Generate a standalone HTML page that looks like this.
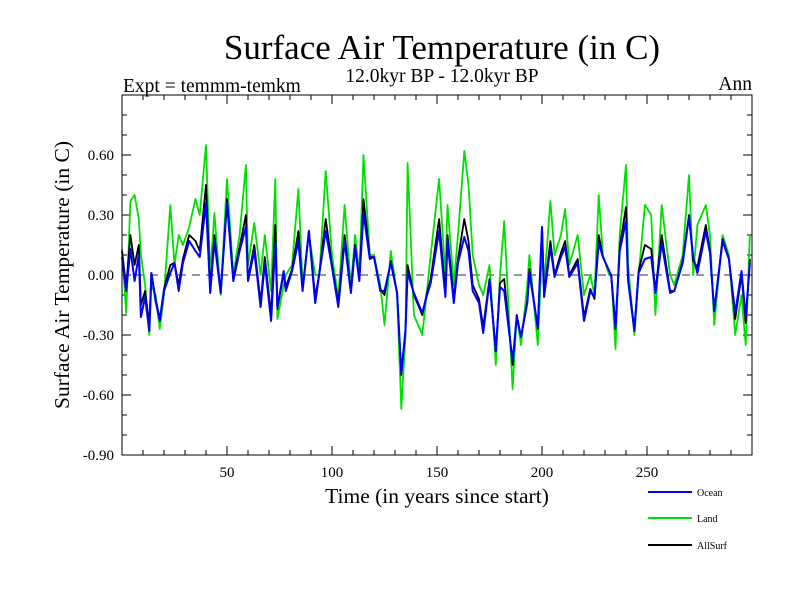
<!DOCTYPE html>
<html><head><meta charset="utf-8"><style>
body{margin:0;background:#fff}
svg text{font-family:"Liberation Serif",serif}
</style></head><body>
<svg id="chart" width="800" height="600" xmlns="http://www.w3.org/2000/svg">
<text x="442" y="59" font-size="35" text-anchor="middle">Surface Air Temperature (in C)</text>
<text x="123" y="92" font-size="19.5">Expt = temmm-temkm</text>
<text x="442" y="82" font-size="19.5" text-anchor="middle">12.0kyr BP - 12.0kyr BP</text>
<text x="752" y="90" font-size="19.5" text-anchor="end">Ann</text>
<text transform="translate(69,275) rotate(-90)" font-size="21.5" text-anchor="middle">Surface Air Temperature (in C)</text>
<text x="437" y="503" font-size="21.5" text-anchor="middle">Time (in years since start)</text>
<g id="axes"></g>
<g id="series"></g>
<rect x="122" y="95" width="630" height="360" fill="none" stroke="#000" stroke-width="1"/>
<g id="legend" font-family="Liberation Sans, sans-serif"></g>
</svg>
<script>
const years=[0,2,4,6,8,9,11,13,14,16,18,20,23,25,27,29,32,35,37,40,42,44,47,50,53,56,59,60,63,66,68,71,73,74,77,78,81,84,86,89,92,94,97,100,103,106,109,111,113,115,118,120,123,125,128,131,133,135,136,139,143,145,147,151,154,155,158,160,163,165,167,170,172,175,178,180,182,186,188,190,193,194,198,200,201,204,206,209,211,213,217,220,223,225,227,229,232,233,235,237,240,241,244,246,249,252,254,257,261,263,267,270,272,274,278,280,282,286,289,292,295,297,299];
const ocean=[0.09,-0.08,0.13,-0.03,0.10,-0.21,-0.11,-0.28,0.01,-0.13,-0.23,-0.08,0.01,0.06,-0.08,0.06,0.17,0.12,0.09,0.36,-0.09,0.17,-0.09,0.36,-0.03,0.12,0.24,-0.03,0.12,-0.16,0.06,-0.23,0.16,-0.16,0.02,-0.08,0.02,0.17,-0.08,0.22,-0.14,0.01,0.22,0.04,-0.16,0.17,-0.09,0.14,-0.03,0.31,0.08,0.09,-0.08,-0.08,0.06,-0.09,-0.49,-0.28,0.01,-0.09,-0.19,-0.11,-0.04,0.22,-0.11,0.17,-0.14,0.06,0.19,0.12,-0.08,-0.14,-0.29,-0.03,-0.38,-0.06,-0.08,-0.43,-0.21,-0.31,-0.14,0.01,-0.26,0.24,-0.11,0.14,-0.01,0.09,0.14,-0.01,0.06,-0.23,-0.08,-0.11,0.16,0.09,0.02,-0.01,-0.26,0.12,0.27,-0.03,-0.28,0.01,0.08,0.09,-0.09,0.16,-0.09,-0.08,0.06,0.29,0.09,0.01,0.22,0.11,-0.18,0.17,0.08,-0.19,0.02,-0.21,0.06];
const land=[0.13,-0.19,0.37,0.40,0.28,0.10,-0.05,-0.30,-0.05,-0.10,-0.27,-0.10,0.35,0.05,0.20,0.15,0.24,0.38,0.30,0.65,0.00,0.31,-0.10,0.48,0.00,0.20,0.55,0.05,0.26,0.00,0.20,-0.08,0.48,-0.22,-0.05,0.00,0.05,0.43,-0.05,0.20,0.00,0.00,0.52,0.10,-0.12,0.35,-0.06,0.20,0.00,0.60,0.10,0.10,-0.05,-0.25,0.12,-0.10,-0.67,-0.30,0.56,-0.20,-0.30,-0.10,0.10,0.48,0.00,0.35,-0.05,0.20,0.62,0.45,0.10,-0.05,-0.10,0.05,-0.45,0.00,0.27,-0.57,-0.20,-0.35,-0.05,0.10,-0.35,0.12,-0.05,0.37,0.10,0.20,0.33,0.05,0.20,-0.10,0.00,-0.10,0.40,0.10,0.00,0.00,-0.37,0.20,0.55,0.05,-0.30,0.00,0.35,0.30,-0.20,0.35,0.00,-0.05,0.10,0.50,0.00,0.25,0.35,0.20,-0.25,0.20,0.10,-0.30,-0.10,-0.35,0.20];
const allsurf=[0.12,-0.06,0.20,0.05,0.15,-0.15,-0.08,-0.25,0.01,-0.12,-0.22,-0.07,0.05,0.06,-0.05,0.08,0.20,0.17,0.12,0.45,-0.07,0.20,-0.09,0.38,-0.02,0.14,0.30,-0.02,0.15,-0.14,0.09,-0.20,0.25,-0.17,0.01,-0.06,0.03,0.22,-0.07,0.22,-0.11,0.01,0.28,0.05,-0.14,0.20,-0.08,0.15,-0.02,0.38,0.09,0.09,-0.07,-0.10,0.07,-0.09,-0.50,-0.27,0.05,-0.10,-0.20,-0.10,-0.02,0.28,-0.09,0.20,-0.12,0.08,0.28,0.17,-0.05,-0.12,-0.26,-0.02,-0.38,-0.04,-0.02,-0.45,-0.20,-0.31,-0.13,0.03,-0.27,0.24,-0.09,0.17,0.00,0.11,0.17,0.00,0.08,-0.21,-0.07,-0.12,0.20,0.09,0.02,0.00,-0.27,0.14,0.34,-0.02,-0.27,0.02,0.15,0.13,-0.08,0.20,-0.08,-0.08,0.07,0.30,0.07,0.04,0.25,0.12,-0.18,0.18,0.08,-0.22,0.00,-0.24,0.08];
const yMajor=[0.6,0.3,0,-0.3,-0.6,-0.9];
const yLabels=["0.60","0.30","0.00","-0.30","-0.60","-0.90"];
const xMajor=[50,100,150,200,250];

const X0=122,X1=752,Y0=95,Y1=455;
const xs=v=>X0+(v-0)/(300-0)*(X1-X0);
const ys=v=>Y1-(v-(-0.9))/(0.9-(-0.9))*(Y1-Y0);
const NS="http://www.w3.org/2000/svg";
function mk(tag,attrs,parent){const e=document.createElementNS(NS,tag);for(const k in attrs)e.setAttribute(k,attrs[k]);parent.appendChild(e);return e;}
const axes=document.getElementById('axes');
for(let i=-9;i<=9;i++){const v=i/10,y=ys(v);const L=(i%3===0)?9:5;
 const t1=mk('line',{x1:X0,x2:X0+L,y1:y,y2:y,stroke:'#000'},axes);
 
 
 const t2=mk('line',{x1:X1-L,x2:X1,y1:y,y2:y,stroke:'#000'},axes);
 
 }
yMajor.forEach((v,i)=>{const t=mk('text',{x:X0-8,y:ys(v)+5,'font-size':15,'text-anchor':'end'},axes);t.textContent=yLabels[i];
 
 });
for(let v=10;v<300;v+=10){const x=xs(v),L=(v%50===0)?9:5;
 const t1=mk('line',{x1:x,x2:x,y1:Y1,y2:Y1-L,stroke:'#000'},axes);
 
 
 const t2=mk('line',{x1:x,x2:x,y1:Y0,y2:Y0+L,stroke:'#000'},axes);
 
 }
xMajor.forEach(v=>{const t=mk('text',{x:xs(v),y:Y1+22,'font-size':15,'text-anchor':'middle'},axes);t.textContent=String(v);
 
 });
const zl=mk('line',{x1:X0,x2:X1,y1:ys(0),y2:ys(0),stroke:'#777','stroke-width':1.5,'stroke-dasharray':'8,6'},axes);


const ser=document.getElementById('series');
function draw(vals,color,name,w){const d=vals.map((v,i)=>(i?'L':'M')+xs(years[i]).toFixed(1)+','+ys(v).toFixed(1)).join('');
 const p=mk('path',{d:d,fill:'none',stroke:color,'stroke-width':w,'stroke-linejoin':'round'},ser);
 
 }
draw(land,'#00e000','land-line',1.8);
draw(allsurf,'#000','allsurf-line',1.8);
draw(ocean,'#0000ff','ocean-line',2);
const lg=document.getElementById('legend');
[['Ocean','#0000ff',492],['Land','#00e000',518],['AllSurf','#000',545]].forEach(([n,c,y])=>{
 const l=mk('line',{x1:648,x2:692,y1:y,y2:y,stroke:c,'stroke-width':2},lg);
 
 
 const t=mk('text',{x:697,y:y+4,'font-size':10,'font-family':'Liberation Sans, sans-serif'},lg);t.textContent=n;
 
 });
</script>
</body></html>
